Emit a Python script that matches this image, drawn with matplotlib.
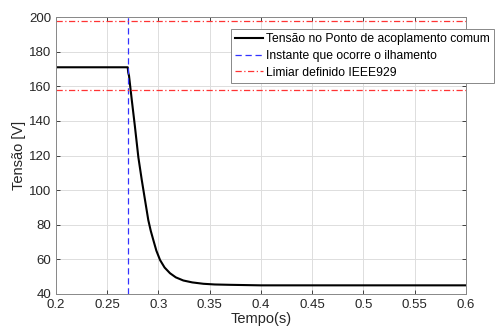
import numpy as np
import matplotlib.pyplot as plt

plt.rcParams['font.family'] = ['Liberation Sans', 'DejaVu Sans']

# tensao no PAC (leitura do grafico)
tempo = [0.2, 0.27, 0.2705, 0.2713, 0.274, 0.277, 0.2804, 0.2837, 0.2869,
         0.2901, 0.2925, 0.295, 0.298, 0.3016, 0.306, 0.3113, 0.317, 0.3243,
         0.333, 0.3439, 0.355, 0.37, 0.4, 0.5, 0.6]
tensao = [171, 171, 168, 166, 152, 137, 119, 106, 94.3,
          82.7, 76.5, 71.2, 65.0, 59.6, 55.3, 52.0, 49.6, 47.8,
          46.7, 45.9, 45.5, 45.3, 45.0, 45.0, 45.0]

t_ilhamento = 0.27
limiares = [198, 158]

cinza = '#262626'

fig = plt.figure(figsize=(4.96, 3.35), dpi=100)
ax = fig.add_axes([0.1129, 0.1224, 0.8261, 0.8266])

l1, = ax.plot(tempo, tensao, color='black', lw=1.5)
l2 = ax.axvline(t_ilhamento, color='#3333ff', ls=(0, (5, 3)), lw=0.9)
for v in limiares:
    l3 = ax.axhline(v, color='#ff3333', ls=(0, (5, 2, 1, 2)), lw=0.9)

ax.set_xlim(0.2, 0.6)
ax.set_ylim(40, 200)
ax.set_xticks(np.arange(0.2, 0.61, 0.05))
ax.set_xticklabels(['0.2', '0.25', '0.3', '0.35', '0.4', '0.45', '0.5', '0.55', '0.6'])
ax.set_yticks(np.arange(40, 201, 20))
ax.grid(True, color='#dddddd', lw=0.7)
ax.set_axisbelow(True)
ax.tick_params(direction='in', top=True, right=True, labelsize=9.5,
               colors=cinza, length=3, width=0.6)
for s in ax.spines.values():
    s.set_color('#888888')
    s.set_linewidth(0.7)

ax.set_xlabel('Tempo(s)', fontsize=10.5, color=cinza, labelpad=1)
ax.set_ylabel('Tensão [V]', fontsize=10.5, color=cinza, labelpad=2)

leg = fig.legend([l1, l2, l3],
                 ['Tensão no Ponto de acoplamento comum',
                  'Instante que ocorre o ilhamento',
                  'Limiar definido IEEE929'],
                 loc='upper left', bbox_to_anchor=(0.466, 0.913),
                 fontsize=8.75, fancybox=False, framealpha=1,
                 edgecolor='#888888', labelspacing=0.38, borderpad=0.35,
                 handlelength=2.3, handletextpad=0.2, borderaxespad=0)
leg.get_frame().set_linewidth(0.7)

plt.savefig('out.png', dpi=100)
